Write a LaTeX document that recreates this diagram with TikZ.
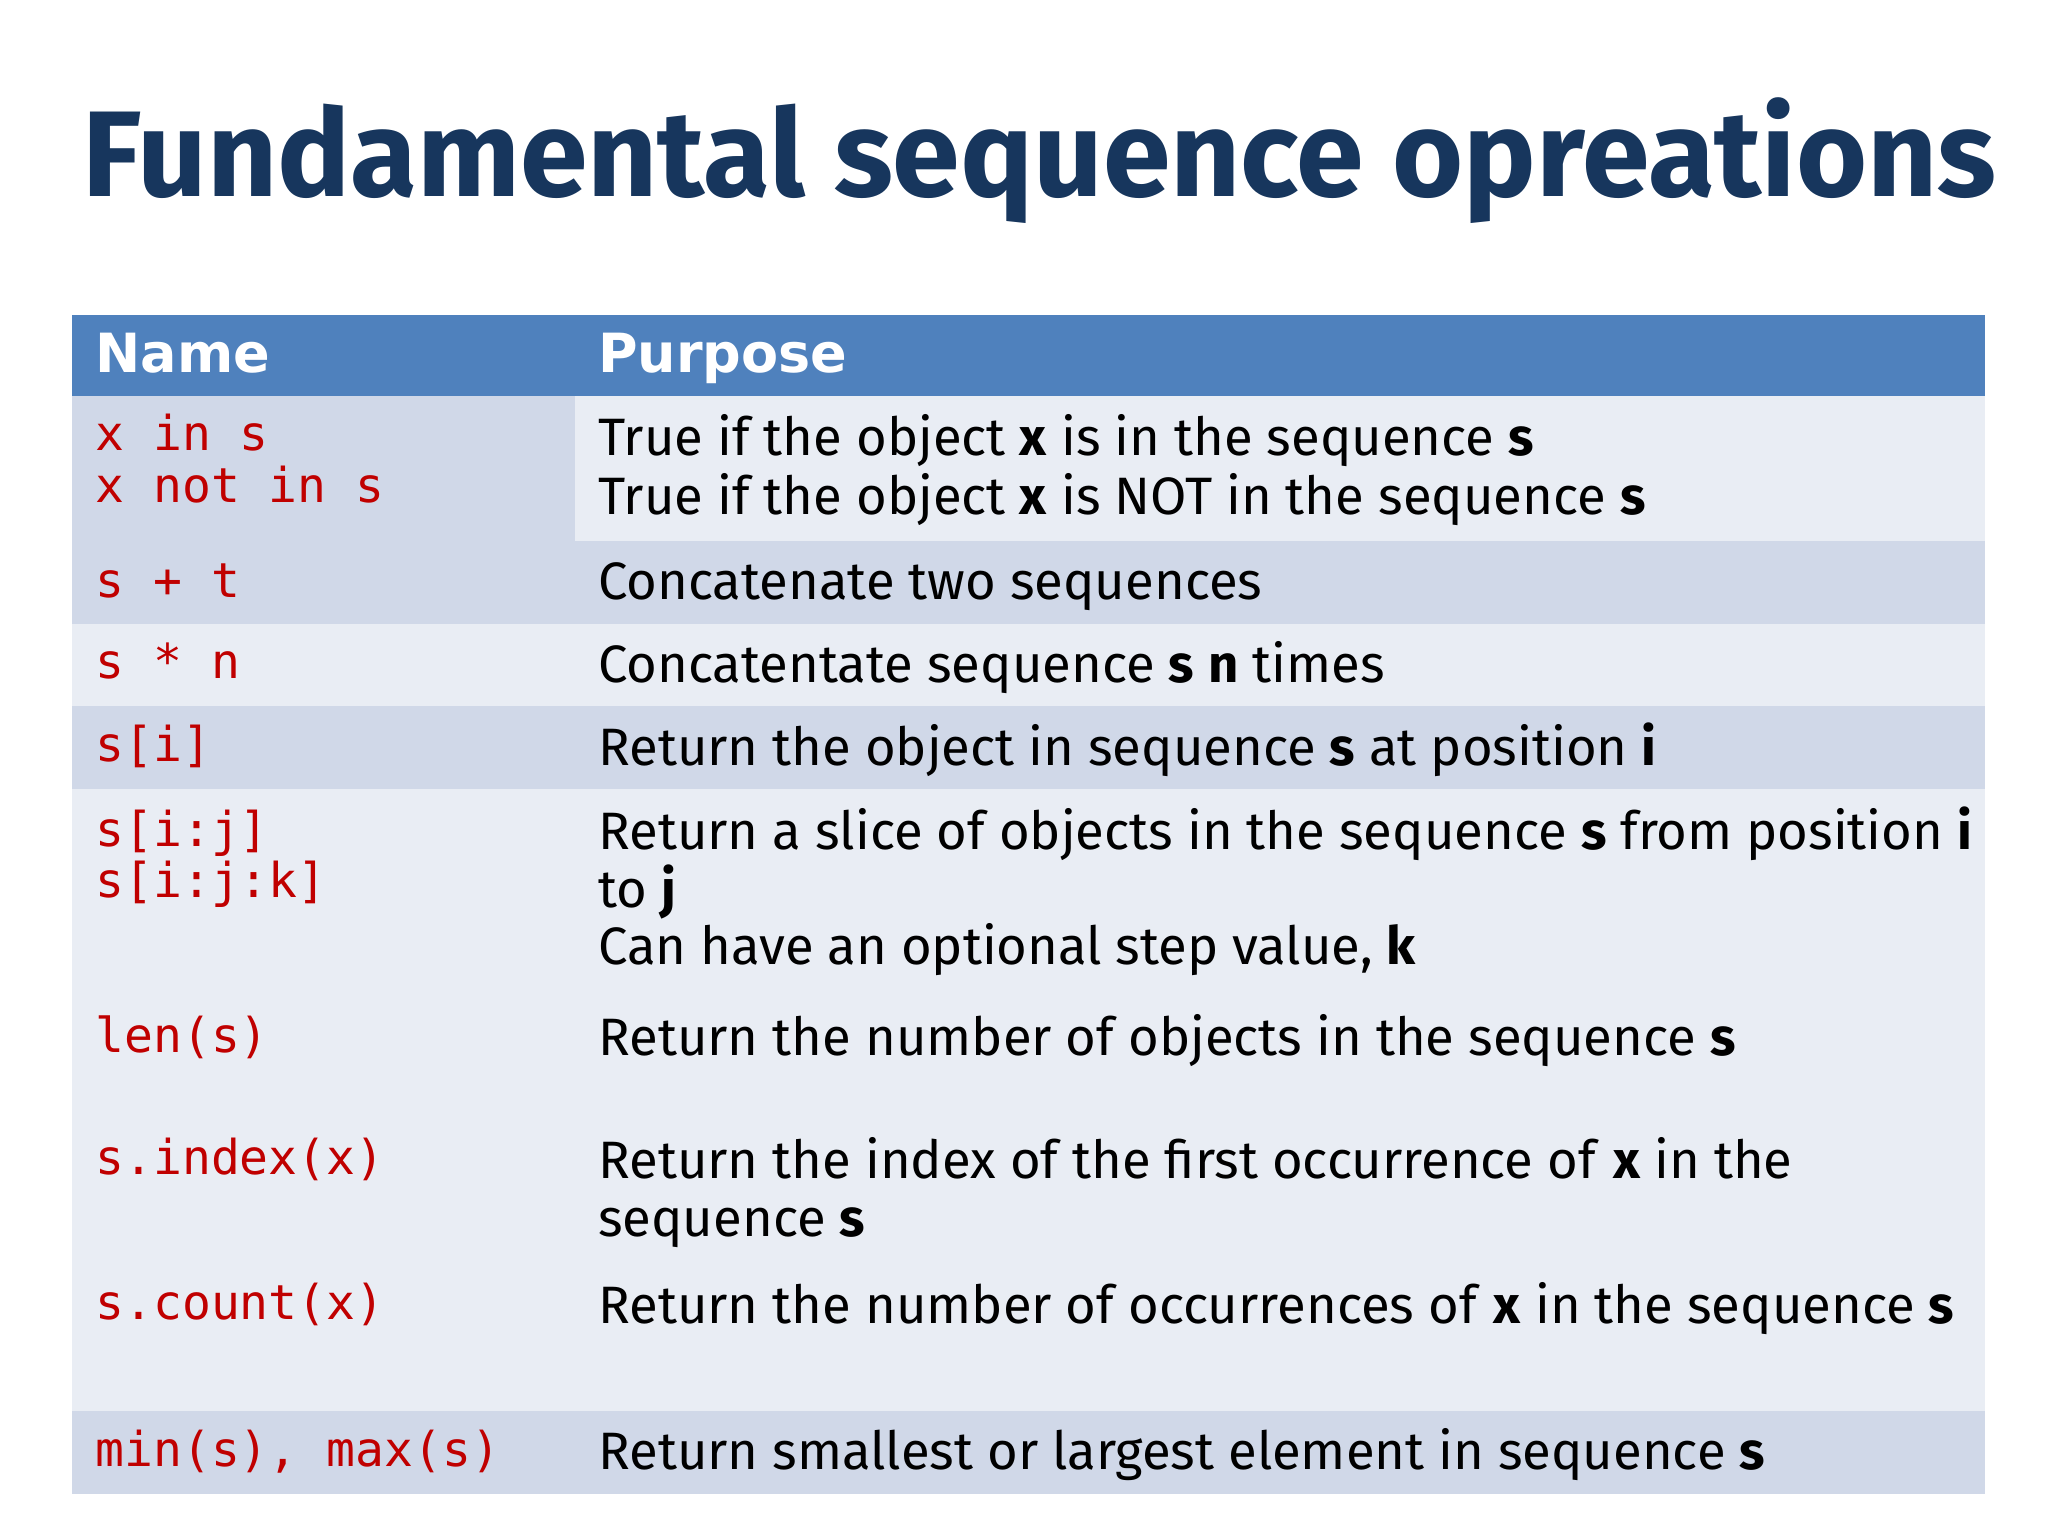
\documentclass[tikz,border=0pt]{standalone}
\usepackage{fontspec}
\setmainfont{Fira Sans}
\newfontfamily\titlefont{Fira Sans}
\newfontfamily\headfont{DejaVu Sans}
\newfontfamily\codefont{DejaVu Sans Mono}
\definecolor{titleblue}{HTML}{17365D}
\definecolor{headblue}{HTML}{4F81BD}
\definecolor{rowdark}{HTML}{D0D8E8}
\definecolor{rowlight}{HTML}{E9EDF4}
\definecolor{codered}{HTML}{C00000}
\begin{document}
\begin{tikzpicture}[x=0.01cm,y=-0.01cm,
  code/.style={anchor=base west,inner sep=0,text=codered,font=\codefont\fontsize{10.4pt}{12pt}\selectfont},
  txt/.style={anchor=base west,inner sep=0,font=\fontsize{11.4pt}{13pt}\selectfont},
  head/.style={anchor=base west,inner sep=0,text=white,font=\headfont\bfseries\fontsize{11.7pt}{13pt}\selectfont}]
\useasboundingbox (0,0) rectangle (1560,1170);
\fill[white] (0,0) rectangle (1560,1170);
\node[anchor=base west,inner sep=0,text=titleblue,font=\titlefont\bfseries\fontsize{26.4pt}{30pt}\selectfont] (title) at (62,150) {Fundamental sequence opreations};
% backgrounds
\fill[headblue] (55,240) rectangle (1512,302);
\fill[rowdark] (55,302) rectangle (438,412);
\fill[rowlight] (438,302) rectangle (1512,412);
\fill[rowdark] (55,412) rectangle (1512,475);
\fill[rowlight] (55,475) rectangle (1512,538);
\fill[rowdark] (55,538) rectangle (1512,601);
\fill[rowlight] (55,601) rectangle (1512,1075);
\fill[rowdark] (55,1075) rectangle (1512,1138);
\node[head] (hn) at (72,284) {Name};
\node[head] (hp) at (455,284) {Purpose};
\node[code] (c1) at (72,343) {x in s};
\node[code] (c1b) at (72,383) {x not in s};
\node[txt] (p1) at (455,347) {True if the object \textbf{x} is in the sequence \textbf{s}};
\node[txt] (p1b) at (455,392) {True if the object \textbf{x} is NOT in the sequence \textbf{s}};
\node[code] (c2) at (72,455) {s + t};
\node[txt] (p2) at (455,457) {Concatenate two sequences};
\node[code] (c3) at (72,517) {s * n};
\node[txt] (p3) at (455,520) {Concatentate sequence \textbf{s} \textbf{n} times};
\node[code] (c4) at (72,580) {s[i]};
\node[txt] (p4) at (455,583) {Return the object in sequence \textbf{s} at position \textbf{i}};
\node[code] (c5) at (72,645) {s[i:j]};
\node[code] (c5b) at (72,684) {s[i:j:k]};
\node[txt] (p5) at (455,647) {Return a slice of objects in the sequence \textbf{s} from position \textbf{i}};
\node[txt] (p5b) at (455,691) {to \textbf{j}};
\node[txt] (p5c) at (455,735) {Can have an optional step value, \textbf{k}};
\node[code] (c6) at (72,802) {len(s)};
\node[txt] (p6) at (455,804) {Return the number of objects in the sequence \textbf{s}};
\node[code] (c7) at (72,895) {s.index(x)};
\node[txt] (p7) at (455,898) {Return the index of the first occurrence of \textbf{x} in the};
\node[txt] (p7b) at (455,942) {sequence \textbf{s}};
\node[code] (c8) at (72,1005) {s.count(x)};
\node[txt] (p8) at (455,1008) {Return the number of occurrences of \textbf{x} in the sequence \textbf{s}};
\node[code] (c9) at (72,1117) {min(s), max(s)};
\node[txt] (p9) at (455,1119) {Return smallest or largest element in sequence \textbf{s}};
\end{tikzpicture}
\end{document}
